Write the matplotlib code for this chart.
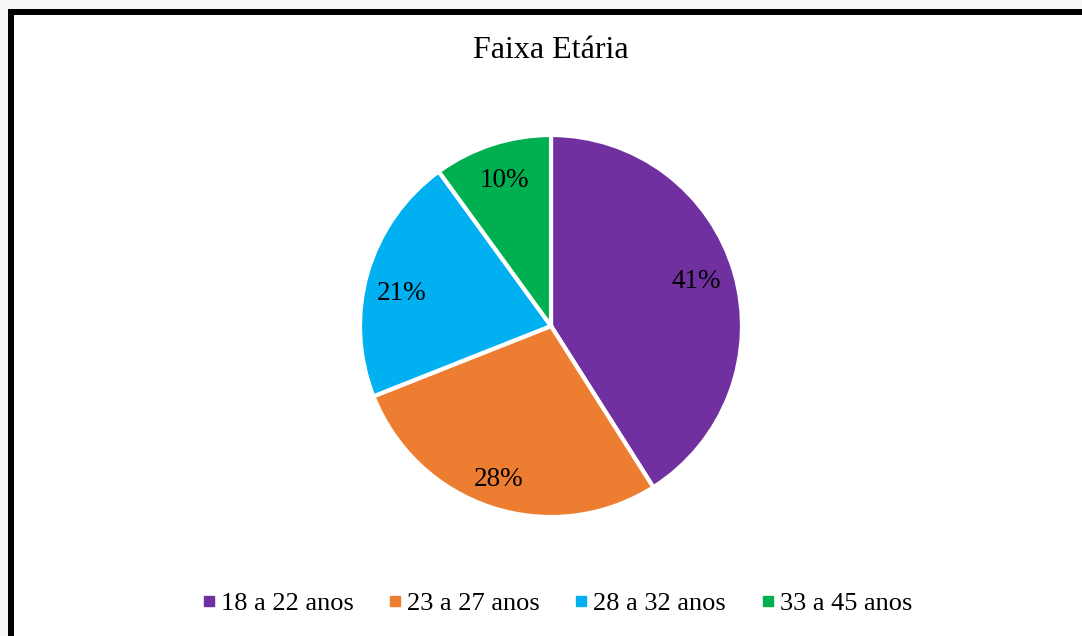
import matplotlib
matplotlib.use("Agg")
import matplotlib.pyplot as plt
from matplotlib.patches import Rectangle
from matplotlib.lines import Line2D

title = "Faixa Etária"
categories = ["18 a 22 anos", "23 a 27 anos", "28 a 32 anos", "33 a 45 anos"]
values = [41, 28, 21, 10]
colors = ["#7030A0", "#ED7D31", "#00B0F0", "#00B050"]

W, H = 1082, 636
fig = plt.figure(figsize=(W / 100, H / 100), dpi=100)
fig.patch.set_facecolor("white")
plt.rcParams["font.family"] = ["Liberation Serif", "DejaVu Serif"]

# outer gray strips and thick black border (top and left)
fig.add_artist(Rectangle((0, 1 - 9 / H), 1, 9 / H, transform=fig.transFigure,
                         facecolor="#f7f7f7", edgecolor="none", zorder=0))
fig.add_artist(Rectangle((0, 0), 8 / W, 1, transform=fig.transFigure,
                         facecolor="#f7f7f7", edgecolor="none", zorder=0))
fig.add_artist(Rectangle((8 / W, 0), 6 / W, 1 - 9 / H, transform=fig.transFigure,
                         facecolor="black", edgecolor="none", zorder=1))
fig.add_artist(Rectangle((8 / W, 1 - 15 / H), 1 - 8 / W, 6 / H, transform=fig.transFigure,
                         facecolor="black", edgecolor="none", zorder=1))

cx, cy, r = 551, 326, 191
ax = fig.add_axes([(cx - r) / W, 1 - (cy + r) / H, 2 * r / W, 2 * r / H])
wedges, texts, autotexts = ax.pie(
    values, colors=colors, startangle=90, counterclock=False,
    autopct=lambda p: f"{p:.0f}%", pctdistance=0.80,
    wedgeprops=dict(edgecolor="white", linewidth=3),
    textprops=dict(fontsize=19.5, color="black"))
# small label nudges (pixels: right, down) to match the reference placement
nudges = [(-1, -1.5), (-5, 8), (-3, 10), (1, 0)]
for t, (dx, dy) in zip(autotexts, nudges):
    x, y = t.get_position()
    t.set_position((x + dx / r, y - dy / r))
ax.set_xlim(-1, 1)
ax.set_ylim(-1, 1)
ax.set_aspect("equal")
ax.axis("off")

fig.text(551 / W, 1 - 51 / H, title, ha="center", va="center", fontsize=23)

handles = [Line2D([0], [0], marker="s", linestyle="none", markersize=6.5,
                  markerfacecolor=c, markeredgecolor=c) for c in colors]
fig.legend(handles, categories, loc="center", bbox_to_anchor=(557 / W, 1 - 603 / H),
           ncol=4, frameon=False, fontsize=19, handlelength=0.5,
           handletextpad=0.2, columnspacing=1.33, borderpad=0, borderaxespad=0)

fig.savefig("out.png", dpi=100)
